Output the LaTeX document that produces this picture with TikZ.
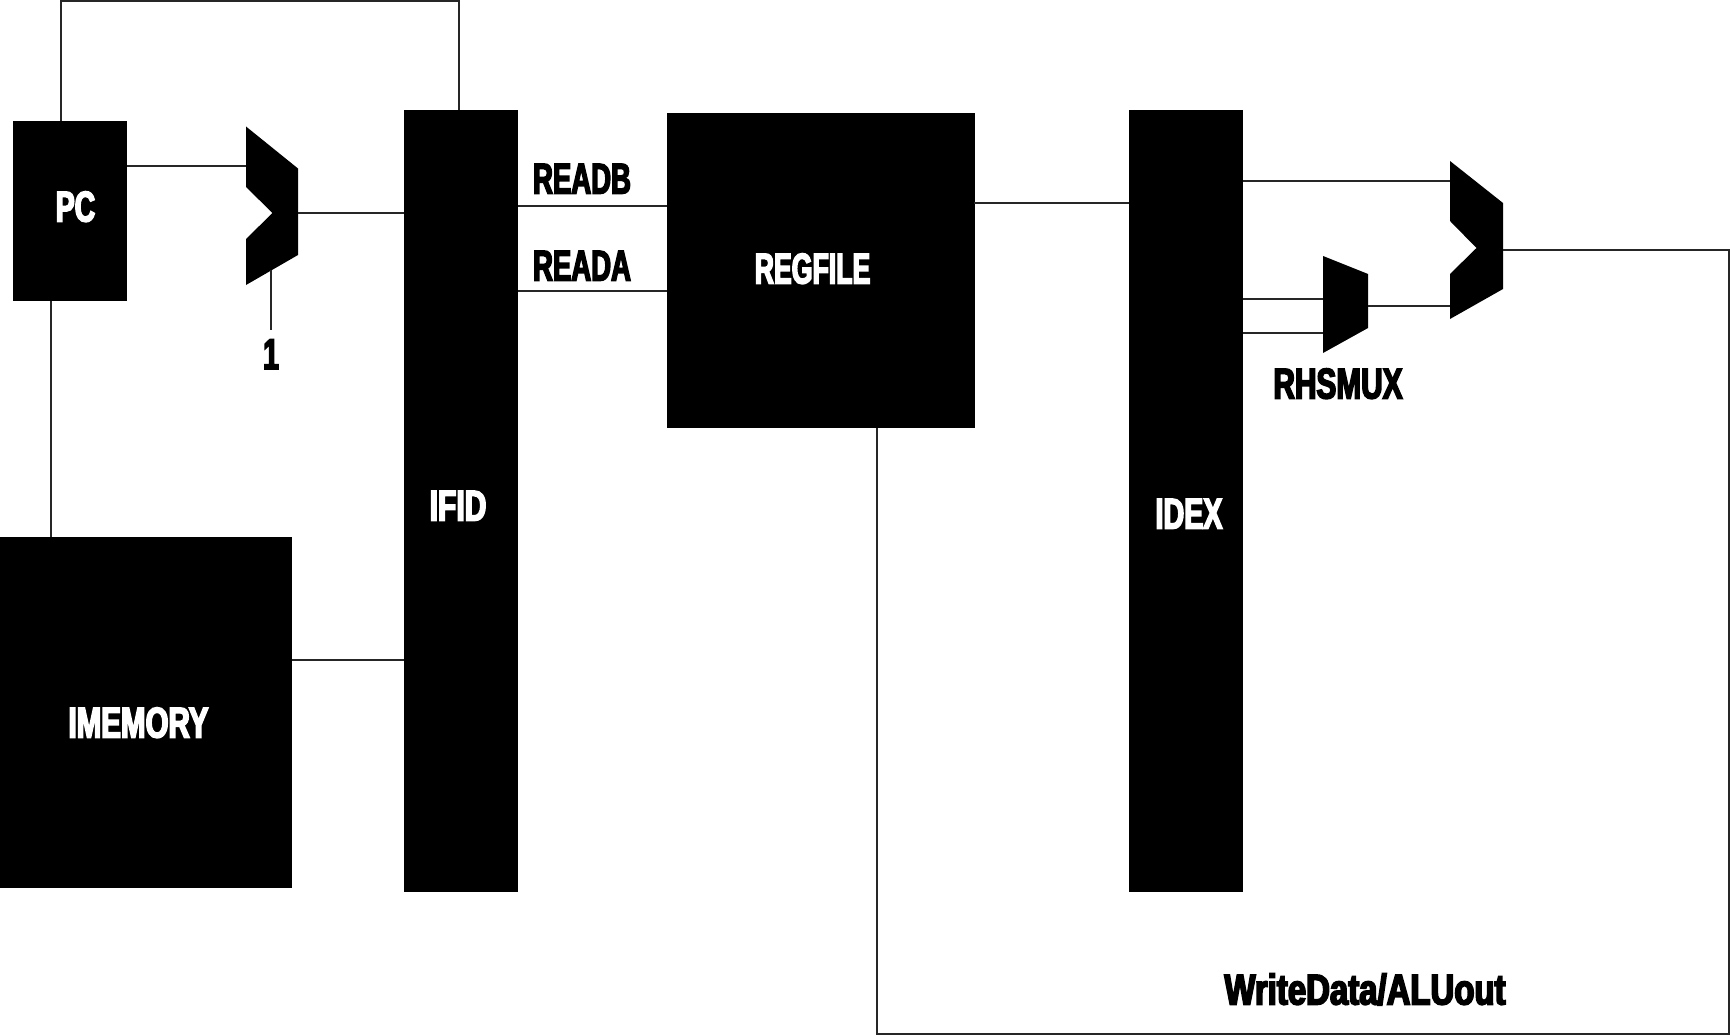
\documentclass[tikz,border=0pt]{standalone}
\usepackage{fontspec}
\usepackage{graphicx}
\newfontfamily\heavyfont[FakeStretch=0.66,FakeBold=3.6]{Liberation Sans Bold}
\newcommand{\fitw}[2]{\scalebox{#1}[1]{#2}}
\begin{document}
\begin{tikzpicture}[x=1pt,y=-1pt,
  block/.style={fill=black,draw=none,inner sep=0pt,anchor=north west,minimum width=#1},
  wire/.style={draw=black!85,line width=1.1pt},
  muxshape/.style={fill=black,draw=none},
  lbl/.style={font=\heavyfont\fontsize{43}{43}\selectfont,inner sep=0pt,anchor=base,text=black},
  wlbl/.style={lbl,text=white}]
\useasboundingbox (0,0) rectangle (1730,1035);
% blocks
\node[block=114pt,minimum height=180pt] (pc) at (13,121) {};
\node[block=114pt,minimum height=781pt] (ifid) at (404,110.3) {};
\node[block=292pt,minimum height=351pt] (imem) at (0,537) {};
\node[block=308pt,minimum height=315.5pt] (regfile) at (666.7,112.7) {};
\node[block=114pt,minimum height=781pt] (idex) at (1129,110.3) {};
% mux shapes
\fill[muxshape] (246,126.5) coordinate (addT) -- (298,168.5) -- (298,213) coordinate (addO) -- (298,255) -- (246,285) -- (246,239) -- (272.5,213) -- (246,187) -- cycle;
\fill[muxshape] (1450,161) coordinate (aluT) -- (1503,203) -- (1503,250) coordinate (aluO) -- (1503,289) -- (1450,319) -- (1450,274) -- (1476.5,248) -- (1450,221) -- cycle;
\fill[muxshape] (1323,256) -- (1368,274) -- (1368,306) coordinate (rhsO) -- (1368,328) -- (1323,353) -- cycle;
% port coordinates
\coordinate (pcTop) at (61,121);
\coordinate (pcBot) at (51,301);
\coordinate (ifidTop) at (459,110);
\coordinate (cornerA) at (61,1);
\coordinate (cornerB) at (459,1);
\coordinate (addIn) at (246,166);
\coordinate (addCarry) at (271,270);
\coordinate (oneEnd) at (271,330);
\coordinate (imemTop) at (51,537);
\coordinate (imemOut) at (292,660);
\coordinate (aluIn) at (1450,181);
\coordinate (aluIn2) at (1450,306);
\coordinate (rhsIn1) at (1323,299);
\coordinate (rhsIn2) at (1323,333);
\coordinate (rfBot) at (877,428);
\coordinate (cornerC) at (1729,250);
\coordinate (cornerD) at (1729,1034);
\coordinate (cornerE) at (877,1034);
% wires
\draw[wire] (pcTop) -- (cornerA) -- (cornerB) -- (ifidTop);
\draw[wire] (pc.west |- addIn) ++(114,0) -- (addIn);
\draw[wire] (addO) -- (addO -| ifid.west);
\draw[wire] (addCarry) -- (oneEnd);
\draw[wire] (pcBot) -- (imemTop);
\draw[wire] (imemOut) -- (imemOut -| ifid.west);
\draw[wire] (518,206) coordinate (rbA) -- (rbA -| regfile.west);
\draw[wire] (518,291) coordinate (raA) -- (raA -| regfile.west);
\draw[wire] (974,203) coordinate (rfO) -- (rfO -| idex.west);
\draw[wire] (aluIn) -- (aluIn -| idex.east);
\draw[wire] (rhsIn1) -- (rhsIn1 -| idex.east);
\draw[wire] (rhsIn2) -- (rhsIn2 -| idex.east);
\draw[wire] (rhsO) -- (aluIn2);
\draw[wire] (aluO) -- (cornerC) -- (cornerD) -- (cornerE) -- (rfBot);
% labels
\node[wlbl] (tpc) at (75.5,221.5) {\fitw{1}{PC}};
\node[wlbl] (tifid) at (458,520.5) {\fitw{1.06}{IFID}};
\node[wlbl] (tidex) at (1189,528.5) {\fitw{1.01}{IDEX}};
\node[wlbl] (trf) at (812.5,283.5) {\fitw{0.94}{REGFILE}};
\node[wlbl] (tim) at (138.5,737.5) {\fitw{1.04}{IMEMORY}};
\node[lbl] (tone) at (271,369) {1};
\node[lbl] (treadb) at (582,193.5) {\fitw{0.97}{READB}};
\node[lbl] (treada) at (582,280.5) {\fitw{0.97}{READA}};
\node[lbl] (trhs) at (1338,398.5) {\fitw{1.05}{RHSMUX}};
\node[lbl] (twd) at (1365,1004.5) {\fitw{1.16}{WriteData/ALUout}};
\end{tikzpicture}
\end{document}
